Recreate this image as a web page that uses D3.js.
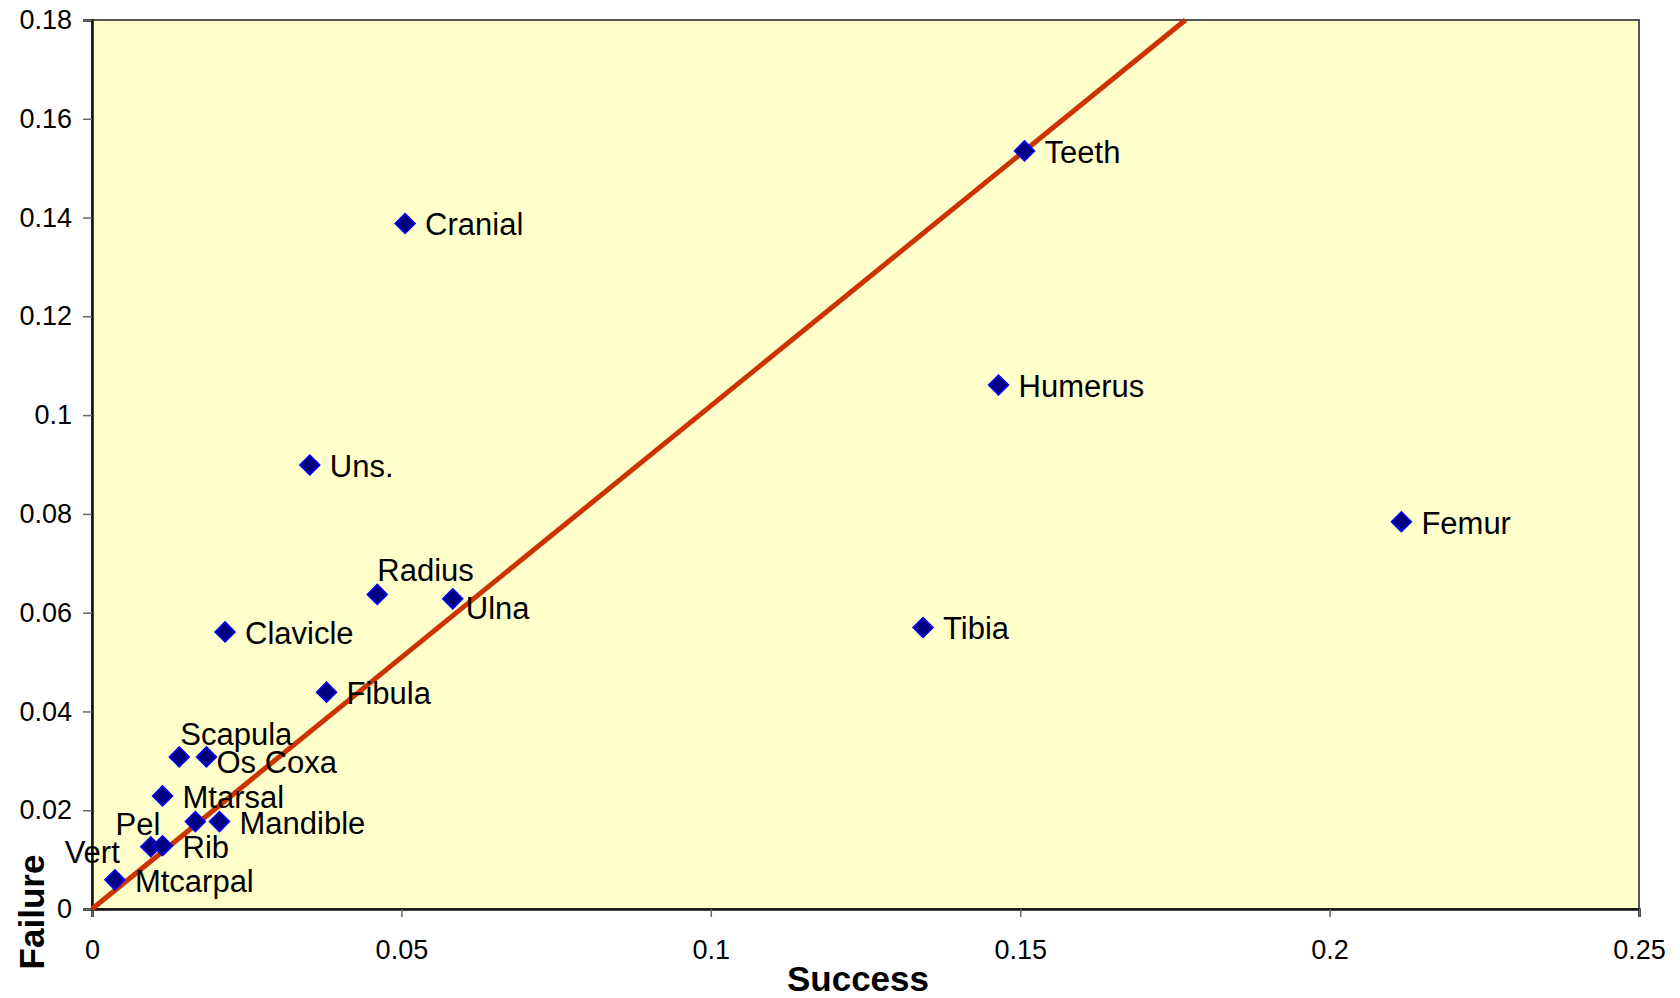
<!DOCTYPE html>
<html>
<head>
<meta charset="utf-8">
<script src="https://cdn.jsdelivr.net/npm/d3@7"></script>
<style>
  body { margin: 0; background: #fff; }
  text { font-family: Arial, "Liberation Sans", sans-serif; }
</style>
</head>
<body>
<div id="chart-container"></div>
<script>
// Bone elements: success vs failure proportions.
const bones = ["Teeth", "Cranial", "Humerus", "Uns.", "Femur", "Radius", "Ulna", "Clavicle", "Tibia",
    "Fibula", "Scapula", "Os Coxa", "Mtarsal", "Pel", "Mandible", "Vert", "Rib", "Mtcarpal"];
const success = [0.1507, 0.0506, 0.1465, 0.0352, 0.2116, 0.0461, 0.0583, 0.0215, 0.1343,
    0.0379, 0.0141, 0.0185, 0.0114, 0.0167, 0.0206, 0.0095, 0.0114, 0.0037];
const failure = [0.1535, 0.1388, 0.1061, 0.0899, 0.0784, 0.0637, 0.0628, 0.0561, 0.0570,
    0.0439, 0.0308, 0.0308, 0.0229, 0.0177, 0.0177, 0.0126, 0.0128, 0.0059];

// Trendline end points.
const trendX = [0, 0.1767];
const trendY = [0, 0.18];

const xTicks = [0, 0.05, 0.1, 0.15, 0.2, 0.25];
const yTicks = [0, 0.02, 0.04, 0.06, 0.08, 0.1, 0.12, 0.14, 0.16, 0.18];

// Label placement (pixels relative to the marker); default is to the right.
const labelPlacement = {
    "Radius":  {dx: 0,   dy: -13, anchor: "start"},
    "Scapula": {dx: 1,   dy: -12, anchor: "start"},
    "Ulna":    {dx: 13,  dy: 20,  anchor: "start"},
    "Os Coxa": {dx: 10,  dy: 16,  anchor: "start"},
    "Pel":     {dx: -35, dy: 13,  anchor: "end"},
    "Vert":    {dx: -31, dy: 16,  anchor: "end"}
};

const chartWidth = 1680;
const chartHeight = 998;
const marginLeft = 92;
const marginRight = 41;
const marginTop = 20;
const marginBottom = 89;

const x = d3.scaleLinear()
    .domain([0, 0.25])
    .range([marginLeft, chartWidth - marginRight]);

const y = d3.scaleLinear()
    .domain([0, 0.18])
    .range([chartHeight - marginBottom, marginTop]);

const fmt = d => String(Math.round(d * 100) / 100);

const chart = d3.select("#chart-container").append("svg")
    .attr("width", chartWidth)
    .attr("height", chartHeight);

// Plot area.
chart.append("rect")
    .attr("x", x(0))
    .attr("y", y(0.18))
    .attr("width", x(0.25) - x(0))
    .attr("height", y(0) - y(0.18))
    .attr("fill", "#FFFFCC")
    .attr("stroke", "#555")
    .attr("stroke-width", 2);

// x-axis.
const xAxis = chart.append("g")
    .attr("transform", `translate(0, ${y(0)})`)
    .call(d3.axisBottom(x).tickValues(xTicks).tickFormat(fmt).tickSize(8).tickPadding(23));

// y-axis.
const yAxis = chart.append("g")
    .attr("transform", `translate(${x(0)}, 0)`)
    .call(d3.axisLeft(y).tickValues(yTicks).tickFormat(fmt).tickSize(9).tickPadding(11));

[xAxis, yAxis].forEach(ax => {
    ax.select(".domain").attr("stroke", "#111").attr("stroke-width", 2.5);
    ax.selectAll(".tick line").attr("stroke", "#666").attr("stroke-width", 1.5);
    ax.selectAll(".tick text")
        .attr("fill", "#000")
        .style("font-size", "27px")
        .style("font-family", "Arial, 'Liberation Sans', sans-serif");
});

// Trendline.
chart.append("line")
    .attr("x1", x(trendX[0]))
    .attr("y1", y(trendY[0]))
    .attr("x2", x(trendX[1]))
    .attr("y2", y(trendY[1]))
    .attr("stroke", "#CC3300")
    .attr("stroke-width", 5);

const points = bones.map((name, i) => ({name: name, x: success[i], y: failure[i]}));

// Markers.
chart.selectAll(".point")
    .data(points)
    .enter()
    .append("path")
    .attr("class", "point")
    .attr("d", d3.symbol(d3.symbolSquare, 200))
    .attr("transform", d => `translate(${x(d.x)}, ${y(d.y)}) rotate(45)`)
    .attr("fill", "#000080")
    .attr("stroke", "#0000FF")
    .attr("stroke-width", 1.5);

// Labels.
chart.selectAll(".label")
    .data(points)
    .enter()
    .append("text")
    .attr("class", "label")
    .attr("x", d => x(d.x) + (labelPlacement[d.name] ? labelPlacement[d.name].dx : 20))
    .attr("y", d => y(d.y) + (labelPlacement[d.name] ? labelPlacement[d.name].dy : 12))
    .attr("text-anchor", d => labelPlacement[d.name] ? labelPlacement[d.name].anchor : "start")
    .style("font-size", "31px")
    .attr("fill", "#000")
    .text(d => d.name);

// Axis titles.
chart.append("text")
    .attr("x", 858)
    .attr("y", 991)
    .attr("text-anchor", "middle")
    .style("font-size", "35px")
    .style("font-weight", "bold")
    .text("Success");

chart.append("text")
    .attr("transform", "translate(44, 912) rotate(-90)")
    .attr("text-anchor", "middle")
    .style("font-size", "35px")
    .style("font-weight", "bold")
    .text("Failure");
</script>
</body>
</html>
